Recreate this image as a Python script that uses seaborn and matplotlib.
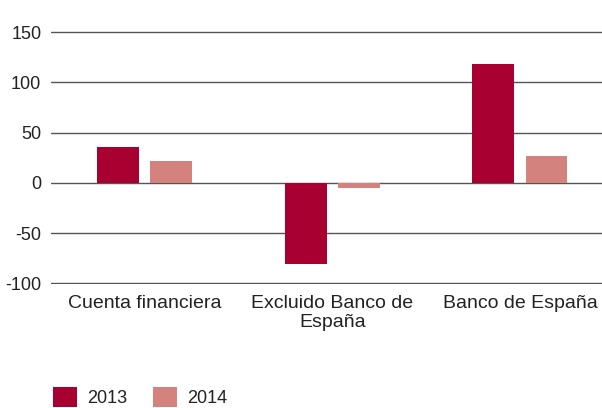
import matplotlib
matplotlib.use("Agg")
import matplotlib.pyplot as plt
from matplotlib.patches import Patch
import pandas as pd
import seaborn as sns

# Datos
categorias = ["Cuenta financiera", "Excluido Banco de\nEspaña", "Banco de España"]
valores_2013 = [36, -81, 118]
valores_2014 = [22, -5, 27]
anios = ["2013", "2014"]
colores = ["#A80030", "#D4827D"]

df = pd.DataFrame({
    "categoria": categorias * 2,
    "valor": valores_2013 + valores_2014,
    "anio": [anios[0]] * 3 + [anios[1]] * 3,
})

sns.set_theme(style="white")
plt.rcParams['font.family'] = ['Liberation Sans', 'DejaVu Sans']

fig = plt.figure(figsize=(6.02, 4.08), dpi=100)
ax = fig.add_axes([51 / 602, 123.7 / 408, 551 / 602, (377 - 123.7) / 408])

sns.barplot(data=df, x="categoria", y="valor", hue="anio", palette=colores,
            saturation=1, width=0.565, gap=0.21, linewidth=0, ax=ax, zorder=3)

ax.set_ylim(-101, 151)
ax.set_xlim(-0.498, 2.437)
ax.set_yticks([-100, -50, 0, 50, 100, 150])
ax.set_yticklabels(["-100", "-50", "0", "50", "100", "150"])
ax.yaxis.grid(True, color="#555555", linewidth=1.0, zorder=0)
ax.set_axisbelow(True)
for s in ax.spines.values():
    s.set_visible(False)

ax.set_xlabel("")
ax.set_ylabel("")
ax.tick_params(axis="y", length=0, pad=7, labelsize=13, colors="#222222")
ax.tick_params(axis="x", length=0, pad=8, labelsize=14, colors="#222222")
for lbl in ax.get_xticklabels():
    lbl.set_linespacing(1.15)

# Leyenda abajo a la izquierda
ax.get_legend().remove()
handles = [Patch(facecolor=c, edgecolor="none") for c in colores]
fig.legend(handles, anios, loc="lower left", bbox_to_anchor=(53 / 602, 0.003),
           ncol=2, frameon=False, fontsize=13, handlelength=1.35, handleheight=1.35,
           handletextpad=0.55, columnspacing=1.4, borderpad=0, borderaxespad=0,
           labelcolor="#222222")

plt.savefig("out.png", dpi=100)
